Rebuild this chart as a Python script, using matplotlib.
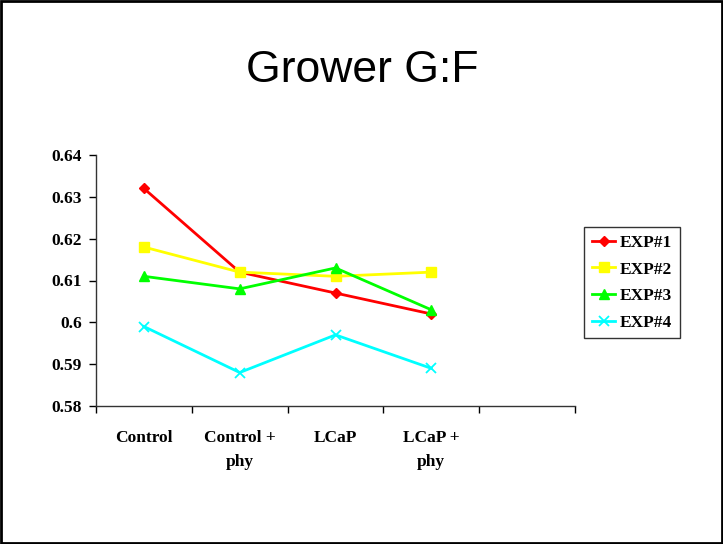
import matplotlib
matplotlib.use("Agg")
import matplotlib.pyplot as plt
from matplotlib.patches import Rectangle

categories = ["Control", "Control +\nphy", "LCaP", "LCaP +\nphy"]
exp1 = [0.632, 0.612, 0.607, 0.602]
exp2 = [0.618, 0.612, 0.611, 0.612]
exp3 = [0.611, 0.608, 0.613, 0.603]
exp4 = [0.599, 0.588, 0.597, 0.589]
series_names = ["EXP#1", "EXP#2", "EXP#3", "EXP#4"]
yticks = [0.58, 0.59, 0.6, 0.61, 0.62, 0.63, 0.64]
ytick_labels = ["0.58", "0.59", "0.6", "0.61", "0.62", "0.63", "0.64"]

fig = plt.figure(figsize=(7.23, 5.44), dpi=100)
ax = fig.add_axes([96/723, 1-406/544, (575-96)/723, (406-155)/544])

x = list(range(len(categories)))
styles = [
    dict(color="#FF0000", marker="D", ms=5.5),
    dict(color="#FFFF00", marker="s", ms=7),
    dict(color="#00FF00", marker="^", ms=7.5),
    dict(color="#00FFFF", marker="x", ms=7, mew=1.3),
]
for vals, name, st in zip([exp1, exp2, exp3, exp4], series_names, styles):
    ax.plot(x, vals, lw=2, label=name, **st)

ax.set_xlim(-0.5, 4.5)
ax.set_ylim(0.58, 0.64)
ax.set_yticks(yticks)
ax.set_yticklabels(ytick_labels)
ax.set_xticks(x)
ax.set_xticklabels(categories, linespacing=1.7)
ax.set_xticks([i - 0.5 for i in range(6)], minor=True)
ax.tick_params(axis="x", which="major", length=0, pad=17)
ax.tick_params(axis="x", which="minor", length=5, direction="out", width=1)
ax.tick_params(axis="y", length=5, direction="out", width=1, pad=5)
for lab in ax.get_xticklabels() + ax.get_yticklabels():
    lab.set_fontfamily("Liberation Serif")
    lab.set_fontweight("bold")
    lab.set_fontsize(12.5)
for lab in ax.get_xticklabels():
    lab.set_verticalalignment("top")
for s in ["top", "right"]:
    ax.spines[s].set_visible(False)
for s in ["left", "bottom"]:
    ax.spines[s].set_color("#333333")
    ax.spines[s].set_linewidth(1)

leg = ax.legend(loc="upper left", bbox_to_anchor=(584/723, 1-227/544), bbox_transform=fig.transFigure,
                prop=dict(family="Liberation Serif", weight="bold", size=12.5),
                frameon=True, fancybox=False, edgecolor="black", handlelength=1.35,
                labelspacing=0.6, borderpad=0.45, handletextpad=0.25, borderaxespad=0)
leg.get_frame().set_linewidth(1)

fig.text(362/723, 1-70/544, "Grower G:F", ha="center", va="center",
         fontfamily="Liberation Sans", fontsize=32)

fig.patches.append(Rectangle((0.5/723, 1.5/544), 721.5/723, 541.5/544, transform=fig.transFigure,
                             fill=False, edgecolor="black", lw=2))

fig.savefig("out.png", dpi=100)
